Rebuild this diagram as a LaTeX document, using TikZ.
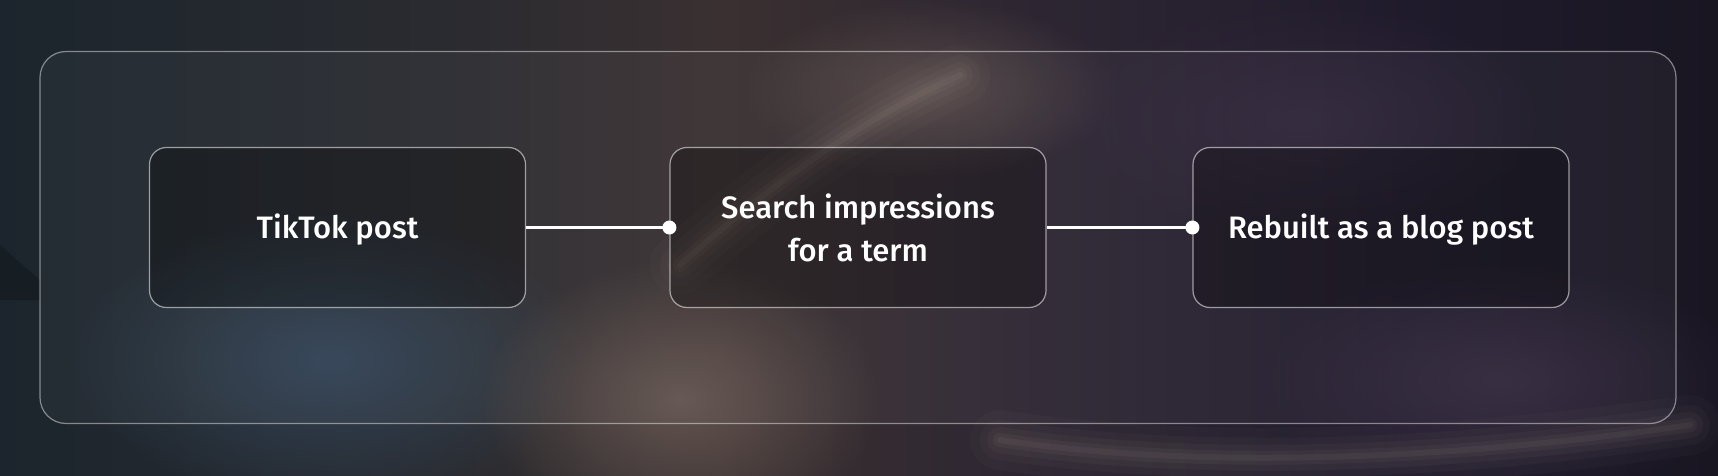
\documentclass[tikz,border=0pt]{standalone}
\usepackage{fontspec}
\setmainfont{Fira Sans}[UprightFont=* Medium]
\usetikzlibrary{fadings}
\definecolor{bgA}{HTML}{1C252D}
\definecolor{bgB}{HTML}{2A2B30}
\definecolor{bgC}{HTML}{3A3031}
\definecolor{bgD}{HTML}{2C2532}
\definecolor{bgE}{HTML}{201B2C}
\definecolor{bgF}{HTML}{191622}
\definecolor{blueblob}{HTML}{33465A}
\definecolor{brownblob}{HTML}{6A5A54}
\definecolor{swoosh}{HTML}{B8A898}
\definecolor{purpleblob}{HTML}{3A2E44}
\pgfdeclarehorizontalshading{bgshade}{100bp}{color(0bp)=(bgA); color(25bp)=(bgA); color(38bp)=(bgB); color(46bp)=(bgC); color(56bp)=(bgD); color(66bp)=(bgE); color(75bp)=(bgF); color(100bp)=(bgF)}
\tikzfading[name=blob, inner color=transparent!0, outer color=transparent!100]
\tikzset{
  panel/.style={rounded corners=26pt, fill=white, fill opacity=0.035, draw=white, draw opacity=0.45, line width=1.2pt},
  stepbox/.style={rounded corners=17pt, fill=black, fill opacity=0.28, draw=white, draw opacity=0.55, line width=1.2pt, minimum width=376pt, minimum height=160pt, inner sep=0pt},
  lbl/.style={text=white, font=\fontsize{31}{43}\selectfont, align=center},
  link/.style={draw=white, line width=2.6pt},
  dot/.style={circle, fill=white, minimum size=14pt, inner sep=0pt},
}
\begin{document}
\begin{tikzpicture}[x=1pt, y=-1pt]
\useasboundingbox (0,0) rectangle (1718,476);
% background
\shade[shading=bgshade] (0,0) rectangle (1718,476);
\fill[blueblob, path fading=blob, opacity=0.9] (330,360) ellipse (260 and 150);
\fill[brownblob, path fading=blob, opacity=0.85] (680,400) ellipse (200 and 140);
\fill[brownblob, path fading=blob, opacity=0.6] (930,90) ellipse (190 and 90);
\fill[purpleblob, path fading=blob, opacity=0.7] (1500,380) ellipse (250 and 120);
\fill[purpleblob, path fading=blob, opacity=0.5] (1300,120) ellipse (250 and 120);
% swoosh streaks (soft)
\foreach \w/\o in {60/0.03,40/0.04,26/0.05,14/0.06,6/0.07}{
  \draw[swoosh, line width=\w pt, opacity=\o, line cap=round] (680,265) .. controls (770,185) and (860,120) .. (960,75);
  \draw[swoosh, line width=\w pt, opacity=\o, line cap=round] (1000,440) .. controls (1200,470) and (1450,460) .. (1690,425);
}
% corner fold at left
\fill[bgA!70!black, opacity=0.7] (0,245) -- (40,280) -- (40,300) -- (0,300) -- cycle;
% panel
\draw[panel] (40,51.5) rectangle (1676,423.5);
% steps
\node[stepbox] (s1) at (337.5,227.5) {};
\node[stepbox] (s2) at (858,227.5) {};
\node[stepbox] (s3) at (1381,227.5) {};
\node[lbl] (t1) at ([yshift=-2pt]s1.center) {TikTok post};
\node[lbl] (t2) at (s2) {Search impressions\\for a term};
\node[lbl] (t3) at ([yshift=-2pt]s3.center) {Rebuilt as a blog post};
% connectors
\node[dot] (d2) at (s2.west) {};
\node[dot] (d3) at (s3.west) {};
\draw[link] (s1.east) -- (d2.center);
\draw[link] (s2.east) -- (d3.center);
\end{tikzpicture}
\end{document}
